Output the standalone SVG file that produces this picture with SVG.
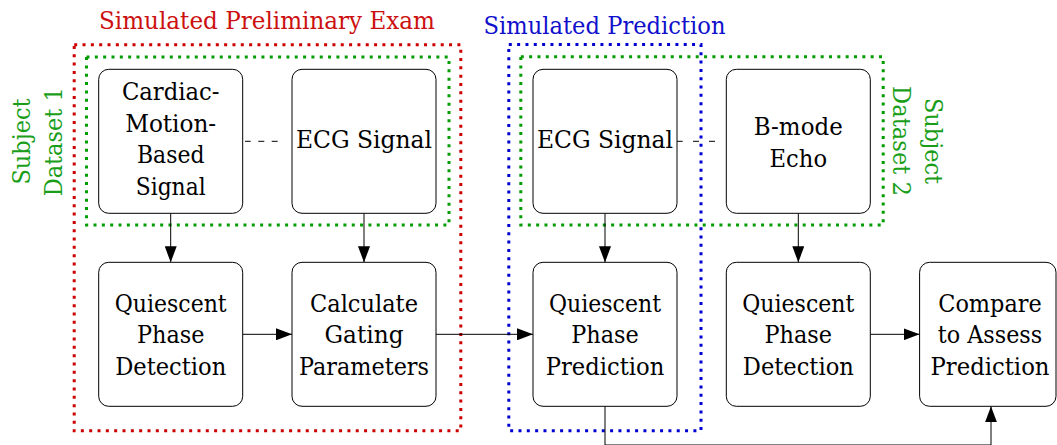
<svg xmlns="http://www.w3.org/2000/svg" width="1057" height="445" viewBox="0 0 1057 445" font-family="DejaVu Serif, serif">
  <defs>
    <marker id="arr" markerUnits="userSpaceOnUse" markerWidth="16" markerHeight="12" refX="16" refY="6" orient="auto">
      <path d="M0,0 L16,6 L0,12 z" fill="#000"/>
    </marker>
    <style>
      .box { fill: #fff; stroke: #000; stroke-width: 1; }
      text { font-size: 24px; text-anchor: middle; fill: #000; }
      .conn { fill: none; stroke: #000; stroke-width: 1; }
      .dot { fill: none; stroke-width: 3; stroke-dasharray: 3 5.33; }
      .red { stroke: #cc0000; }
      .blue { stroke: #0000d0; }
      .green { stroke: #009c00; }
      .tred { fill: #cc1010; }
      .tblue { fill: #1010cc; }
      .tgreen { fill: #1a9e1a; }
    </style>
  </defs>
  <rect width="1057" height="445" fill="#fff"/>

  <!-- group frames -->
  <g id="groups">
    <rect class="dot red" x="74.2" y="44.8" width="386.6" height="386"/>
    <rect class="dot blue" x="508.8" y="44.5" width="192.2" height="386.3"/>
    <rect class="dot green" x="86.5" y="57" width="362.5" height="168"/>
    <rect class="dot green" x="520.8" y="56.8" width="362.4" height="168.2"/>
    <text class="tred" font-family="DejaVu Serif" x="267" y="29" textLength="336" lengthAdjust="spacingAndGlyphs">Simulated Preliminary Exam</text>
    <text class="tblue" font-family="DejaVu Serif" x="604.5" y="34" textLength="242" lengthAdjust="spacingAndGlyphs">Simulated Prediction</text>
    <text class="tgreen" font-family="DejaVu Serif" transform="translate(30,141.5) rotate(-90)" textLength="86" lengthAdjust="spacingAndGlyphs">Subject</text>
    <text class="tgreen" font-family="DejaVu Serif" transform="translate(62,141.8) rotate(-90)" textLength="109" lengthAdjust="spacingAndGlyphs">Dataset 1</text>
    <text class="tgreen" font-family="DejaVu Serif" transform="translate(893,141) rotate(90)" textLength="110" lengthAdjust="spacingAndGlyphs">Dataset 2</text>
    <text class="tgreen" font-family="DejaVu Serif" transform="translate(925,141) rotate(90)" textLength="86" lengthAdjust="spacingAndGlyphs">Subject</text>
  </g>

  <!-- connectors -->
  <g id="connectors">
    <path class="conn" d="M242.7,141.3 H292" stroke-dasharray="0 2.3 5.7 7.6 6 7.4 6 40"/>
    <path class="conn" d="M677,141.3 H726.3" stroke-dasharray="5.7 10.3 6 10 6 30"/>
    <path class="conn" d="M170.7,213.3 V262.3" marker-end="url(#arr)"/>
    <path class="conn" d="M364,213.3 V262.3" marker-end="url(#arr)"/>
    <path class="conn" d="M605,213.3 V262.3" marker-end="url(#arr)"/>
    <path class="conn" d="M798.3,213.3 V262.3" marker-end="url(#arr)"/>
    <path class="conn" d="M242.7,334.3 H292" marker-end="url(#arr)"/>
    <path class="conn" d="M436,334.3 H533" marker-end="url(#arr)"/>
    <path class="conn" d="M870.3,334.3 H919.6" marker-end="url(#arr)"/>
    <path class="conn" d="M605,406.3 V445 H991 V406.3" marker-end="url(#arr)"/>
  </g>

  <!-- nodes -->
  <g id="n-cardiac" font-family="DejaVu Serif">
    <rect class="box" x="98.7" y="69.3" width="144" height="144" rx="10"/>
    <text x="170.7" y="100" textLength="97.5" lengthAdjust="spacingAndGlyphs">Cardiac-</text>
    <text x="170.7" y="131.6" textLength="91" lengthAdjust="spacingAndGlyphs">Motion-</text>
    <text x="170.7" y="163.3" textLength="67.5" lengthAdjust="spacingAndGlyphs">Based</text>
    <text x="170.7" y="195" textLength="70" lengthAdjust="spacingAndGlyphs">Signal</text>
  </g>
  <g id="n-ecg1" font-family="DejaVu Serif">
    <rect class="box" x="292" y="69.3" width="144" height="144" rx="10"/>
    <text x="364" y="148.3" textLength="136" lengthAdjust="spacingAndGlyphs">ECG Signal</text>
  </g>
  <g id="n-ecg2" font-family="DejaVu Serif">
    <rect class="box" x="533" y="69.3" width="144" height="144" rx="10"/>
    <text x="605" y="148.3" textLength="136" lengthAdjust="spacingAndGlyphs">ECG Signal</text>
  </g>
  <g id="n-bmode" font-family="DejaVu Serif">
    <rect class="box" x="726.3" y="69.3" width="144" height="144" rx="10"/>
    <text x="798.3" y="135" textLength="89" lengthAdjust="spacingAndGlyphs">B-mode</text>
    <text x="798.3" y="166.7" textLength="57.5" lengthAdjust="spacingAndGlyphs">Echo</text>
  </g>
  <g id="n-qpd1" font-family="DejaVu Serif">
    <rect class="box" x="98.7" y="262.3" width="144" height="144" rx="10"/>
    <text x="170.7" y="311.7" textLength="112" lengthAdjust="spacingAndGlyphs">Quiescent</text>
    <text x="170.7" y="343.3" textLength="67.5" lengthAdjust="spacingAndGlyphs">Phase</text>
    <text x="170.7" y="375" textLength="111" lengthAdjust="spacingAndGlyphs">Detection</text>
  </g>
  <g id="n-calc" font-family="DejaVu Serif">
    <rect class="box" x="292" y="262.3" width="144" height="144" rx="10"/>
    <text x="364" y="311.7" textLength="108" lengthAdjust="spacingAndGlyphs">Calculate</text>
    <text x="364" y="343.3" textLength="79" lengthAdjust="spacingAndGlyphs">Gating</text>
    <text x="364" y="375" textLength="130" lengthAdjust="spacingAndGlyphs">Parameters</text>
  </g>
  <g id="n-qpp" font-family="DejaVu Serif">
    <rect class="box" x="533" y="262.3" width="144" height="144" rx="10"/>
    <text x="605" y="311.7" textLength="112" lengthAdjust="spacingAndGlyphs">Quiescent</text>
    <text x="605" y="343.3" textLength="67.5" lengthAdjust="spacingAndGlyphs">Phase</text>
    <text x="605" y="375" textLength="118.5" lengthAdjust="spacingAndGlyphs">Prediction</text>
  </g>
  <g id="n-qpd2" font-family="DejaVu Serif">
    <rect class="box" x="726.3" y="262.3" width="144" height="144" rx="10"/>
    <text x="798.3" y="311.7" textLength="112" lengthAdjust="spacingAndGlyphs">Quiescent</text>
    <text x="798.3" y="343.3" textLength="67.5" lengthAdjust="spacingAndGlyphs">Phase</text>
    <text x="798.3" y="375" textLength="111" lengthAdjust="spacingAndGlyphs">Detection</text>
  </g>
  <g id="n-compare" font-family="DejaVu Serif">
    <rect class="box" x="919.6" y="262.3" width="136.4" height="144" rx="10"/>
    <text x="990" y="311.7" textLength="103.5" lengthAdjust="spacingAndGlyphs">Compare</text>
    <text x="990" y="343.3" textLength="104.5" lengthAdjust="spacingAndGlyphs">to Assess</text>
    <text x="990" y="375" textLength="119" lengthAdjust="spacingAndGlyphs">Prediction</text>
  </g>
</svg>
